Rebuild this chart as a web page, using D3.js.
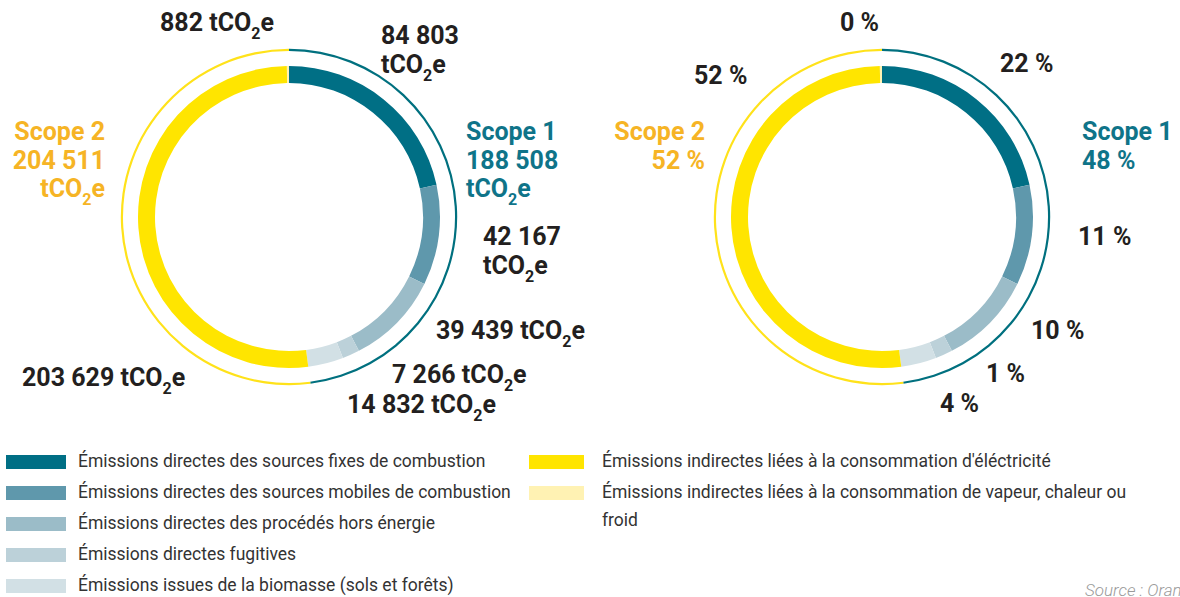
<!DOCTYPE html>
<html lang="fr">
<head>
  <meta charset="UTF-8">
  <title>Émissions Scope 1 et 2</title>
  <style>
    body { margin: 0; background: #fff; }
    svg { display: block; }
  </style>
</head>
<body>
  <script src="https://d3js.org/d3.v7.min.js"></script>
  <script>
    // categories, same order as the legend
    const categories = [
      'Émissions directes des sources fixes de combustion',
      'Émissions directes des sources mobiles de combustion',
      'Émissions directes des procédés hors énergie',
      'Émissions directes fugitives',
      'Émissions issues de la biomasse (sols et forêts)',
      "Émissions indirectes liées à la consommation d'éléctricité",
      'Émissions indirectes liées à la consommation de vapeur, chaleur ou froid'
    ];
    const emissions = [84803, 42167, 39439, 7266, 14832, 203629, 882];   // tCO2e
    const percents = [22, 11, 10, 1, 4, 52, 0];                          // %
    const scopes = ['Scope 1', 'Scope 2'];
    const scopeTotals = [188508, 204511];
    const scopePercents = [48, 52];

    const colors = ['#006f85', '#5f98ac', '#9bbcc8', '#bcd1d9', '#d2e0e5', '#ffe500', '#fff2b3'];
    const scopeColors = ['#00707f', '#ffe21a'];
    const scopeText = ['#0f7489', '#f6b425'];
    const dark = '#231f20';

    const W = 1180, H = 597;
    const svg = d3.select('body').append('svg')
      .attr('width', W).attr('height', H)
      .style('font-family', 'Roboto, sans-serif');

    const fr = d3.formatLocale({ decimal: ',', thousands: ' ', grouping: [3], currency: ['', ' €'] });
    const fmt = fr.format(',d');

    const pie = d3.pie().sort(null).startAngle(0).endAngle(2 * Math.PI);
    const ring = d3.arc().innerRadius(134).outerRadius(151);
    const thin = d3.arc().innerRadius(166).outerRadius(168.2);

    // label offsets from the donut centre
    const leftPos = [[92, -182], [194, 19], [147, 113], [103, 157], [58, 187], [-267, 160], [-129, -195]];
    const leftTwoLines = [true, true, false, false, false, false, false];
    const rightPos = [[118, -154], [196, 19], [149, 113], [104, 156], [58, 186], [-188, -142], [-42, -195]];
    const leftScopePos = [[177, -86], [-184, -86]];
    const rightScopePos = [[200, -86], [-177, -86]];
    const lineH = 29;
    const fs = 25;

    function unit(t) {
      t.append('tspan').text('tCO');
      t.append('tspan').attr('font-size', 16).attr('dy', 8).text('2');
      t.append('tspan').attr('dy', -8).text('e');
    }

    function donut(cx, cy) {
      const g = svg.append('g').attr('transform', `translate(${cx},${cy})`);
      g.selectAll('path.seg').data(pie(emissions)).join('path')
        .attr('class', 'seg')
        .attr('d', ring)
        .attr('fill', (d, i) => colors[i]);
      g.selectAll('path.scope').data(pie(scopeTotals)).join('path')
        .attr('class', 'scope')
        .attr('d', thin)
        .attr('fill', (d, i) => scopeColors[i]);
      return g;
    }

    function label(g, x, y, anchor, color) {
      return g.append('text')
        .attr('x', x).attr('y', y + 9)
        .attr('text-anchor', anchor)
        .attr('font-size', fs)
        .attr('font-weight', 700)
        .attr('fill', color);
    }

    // left donut: tCO2e
    const gl = donut(289, 217);
    emissions.forEach((v, i) => {
      const [x, y] = leftPos[i];
      if (leftTwoLines[i]) {
        label(gl, x, y, 'start', dark).text(fmt(v));
        unit(label(gl, x, y + lineH, 'start', dark));
      } else {
        const t = label(gl, x, y, 'start', dark).text(fmt(v) + ' ');
        unit(t);
      }
    });
    scopes.forEach((s, i) => {
      const [x, y] = leftScopePos[i];
      const a = i === 0 ? 'start' : 'end';
      label(gl, x, y, a, scopeText[i]).text(s);
      label(gl, x, y + lineH, a, scopeText[i]).text(fmt(scopeTotals[i]));
      unit(label(gl, x, y + 2 * lineH - 1, a, scopeText[i]));
    });

    // right donut: %
    const gr = donut(882, 217);
    percents.forEach((p, i) => {
      const [x, y] = rightPos[i];
      label(gr, x, y, 'start', dark).text(p + ' %');
    });
    scopes.forEach((s, i) => {
      const [x, y] = rightScopePos[i];
      const a = i === 0 ? 'start' : 'end';
      label(gr, x, y, a, scopeText[i]).text(s);
      label(gr, x, y + lineH, a, scopeText[i]).text(scopePercents[i] + ' %');
    });

    // legend
    const legendCols = [
      { x: 6, tx: 78, items: [0, 1, 2, 3, 4], ys: [461, 492, 523, 554, 585] },
      { x: 529, tx: 602, items: [5, 6], ys: [461, 492] }
    ];
    const lfs = 17.5;
    const lg = svg.append('g').attr('class', 'legend');
    legendCols.forEach(col => {
      col.items.forEach((k, j) => {
        const y = col.ys[j];
        lg.append('rect')
          .attr('x', col.x).attr('y', y - 6)
          .attr('width', col.x > 100 ? 55 : 60).attr('height', 14)
          .attr('fill', colors[k]);
        const t = lg.append('text')
          .attr('x', col.tx).attr('y', y)
          .attr('dy', '0.35em')
          .attr('font-size', lfs)
          .attr('fill', '#333');
        if (k === 6) {
          t.text('Émissions indirectes liées à la consommation de vapeur, chaleur ou');
          lg.append('text').attr('x', col.tx).attr('y', y + 28).attr('dy', '0.35em')
            .attr('font-size', lfs).attr('fill', '#333').text('froid');
        } else {
          t.text(categories[k]);
        }
      });
    });

    // source note, cut at the right edge as in the original
    svg.append('text')
      .attr('x', 1085).attr('y', 596)
      .attr('font-size', 17)
      .attr('font-style', 'italic')
      .attr('font-weight', 300)
      .attr('fill', '#9a9a9a')
      .text('Source : Orange');
  </script>
</body>
</html>
